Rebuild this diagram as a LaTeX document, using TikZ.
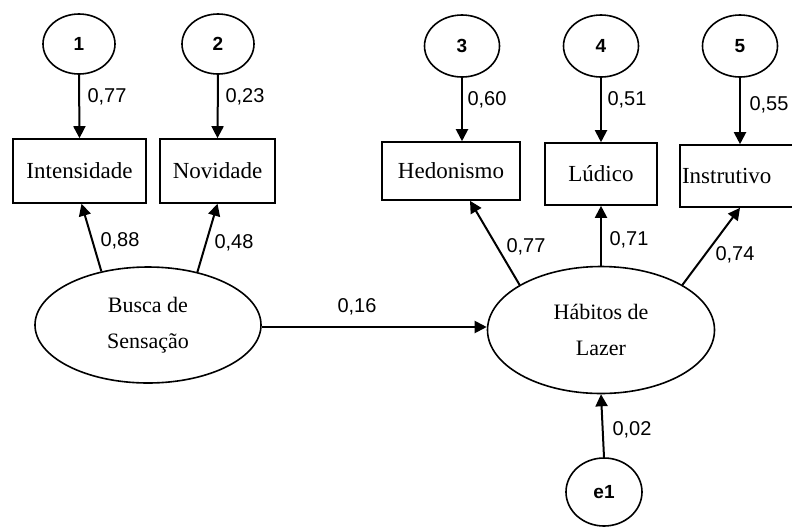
\documentclass[tikz,border=0pt]{standalone}
\usepackage{fontspec}
\setmainfont{Liberation Serif}
\newfontfamily\numfont{Liberation Sans}
\usetikzlibrary{shapes.geometric,arrows.meta}
\begin{document}
\begin{tikzpicture}[x=1pt,y=-1pt,
 lat/.style={draw,line width=1.6pt,ellipse,inner sep=0pt,align=center,font=\fontsize{22}{36}\selectfont},
 err/.style={draw,line width=1.6pt,ellipse,inner sep=0pt,font=\numfont\fontsize{19}{19}\selectfont\bfseries},
 obs/.style={draw,line width=1.6pt,rectangle,inner sep=0pt,font=\fontsize{23}{23}\selectfont},
 num/.style={font=\numfont\fontsize{20}{20}\selectfont,inner sep=0pt},
 arr/.style={line width=2pt,-{Triangle[length=12pt,width=12pt]}}
]
\useasboundingbox (0,0) rectangle (792,528);
% error circles
\node[err,minimum width=72pt,minimum height=60pt] (c1) at (79,44) {1};
\node[err,minimum width=72pt,minimum height=60pt] (c2) at (218,44) {2};
\node[err,minimum width=75pt,minimum height=62pt] (c3) at (462,46) {3};
\node[err,minimum width=75pt,minimum height=62pt] (c4) at (601,46) {4};
\node[err,minimum width=75pt,minimum height=62pt] (c5) at (740,46) {5};
\node[err,minimum width=76pt,minimum height=68pt] (e1) at (604,492) {e1};
% observed boxes
\node[obs,minimum width=133pt,minimum height=64pt] (intens) at (79.5,171) {Intensidade};
\node[obs,minimum width=115pt,minimum height=64pt] (nov) at (217.5,171) {Novidade};
\node[obs,minimum width=138pt,minimum height=58pt] (hed) at (451,171) {Hedonismo};
\node[obs,minimum width=112pt,minimum height=62pt] (lud) at (601,174) {Lúdico};
\node[obs,minimum width=116pt,minimum height=62pt,text width=112pt,align=left] (inst) at (738,176) {Instrutivo};
% latent ellipses
\node[lat,minimum width=226pt,minimum height=116pt] (busca) at (148,325) {Busca de\\Sensação};
\node[lat,minimum width=227pt,minimum height=127pt] (hab) at (601,330) {Hábitos de\\Lazer};
% arrows
\draw[arr] (c1.south) -- (intens.north);
\draw[arr] (c2.south) -- (nov.north);
\draw[arr] (c3.south) -- (c3.south |- hed.north);
\draw[arr] (c4.south) -- (lud.north);
\draw[arr] (c5.south) -- (c5.south |- inst.north);
\draw[arr] (busca.131) -- ([xshift=2pt]intens.south);
\draw[arr] (busca.47) -- (nov.south);
\draw[arr] ([yshift=-2pt]busca.east) -- ([yshift=-2pt]busca.east -| hab.west);
\draw[arr] (hab.151) -- ([xshift=19pt]hed.south);
\draw[arr] (hab.north) -- (lud.south);
\draw[arr] (hab.29) -- ([xshift=2pt]inst.south);
\draw[arr] (e1.north) -- (hab.south);
% coefficient labels
\node[num] (l1) at (107,97) {0,77};
\node[num] (l2) at (245,97) {0,23};
\node[num] (l3) at (487,100) {0,60};
\node[num] (l4) at (627,100) {0,51};
\node[num] (l5) at (769,105) {0,55};
\node[num] (l6) at (120,241) {0,88};
\node[num] (l7) at (234,243) {0,48};
\node[num] (l8) at (357,307) {0,16};
\node[num] (l9) at (526,247) {0,77};
\node[num] (l10) at (629,240) {0,71};
\node[num] (l11) at (735,255) {0,74};
\node[num] (l12) at (632,430) {0,02};
\end{tikzpicture}
\end{document}
